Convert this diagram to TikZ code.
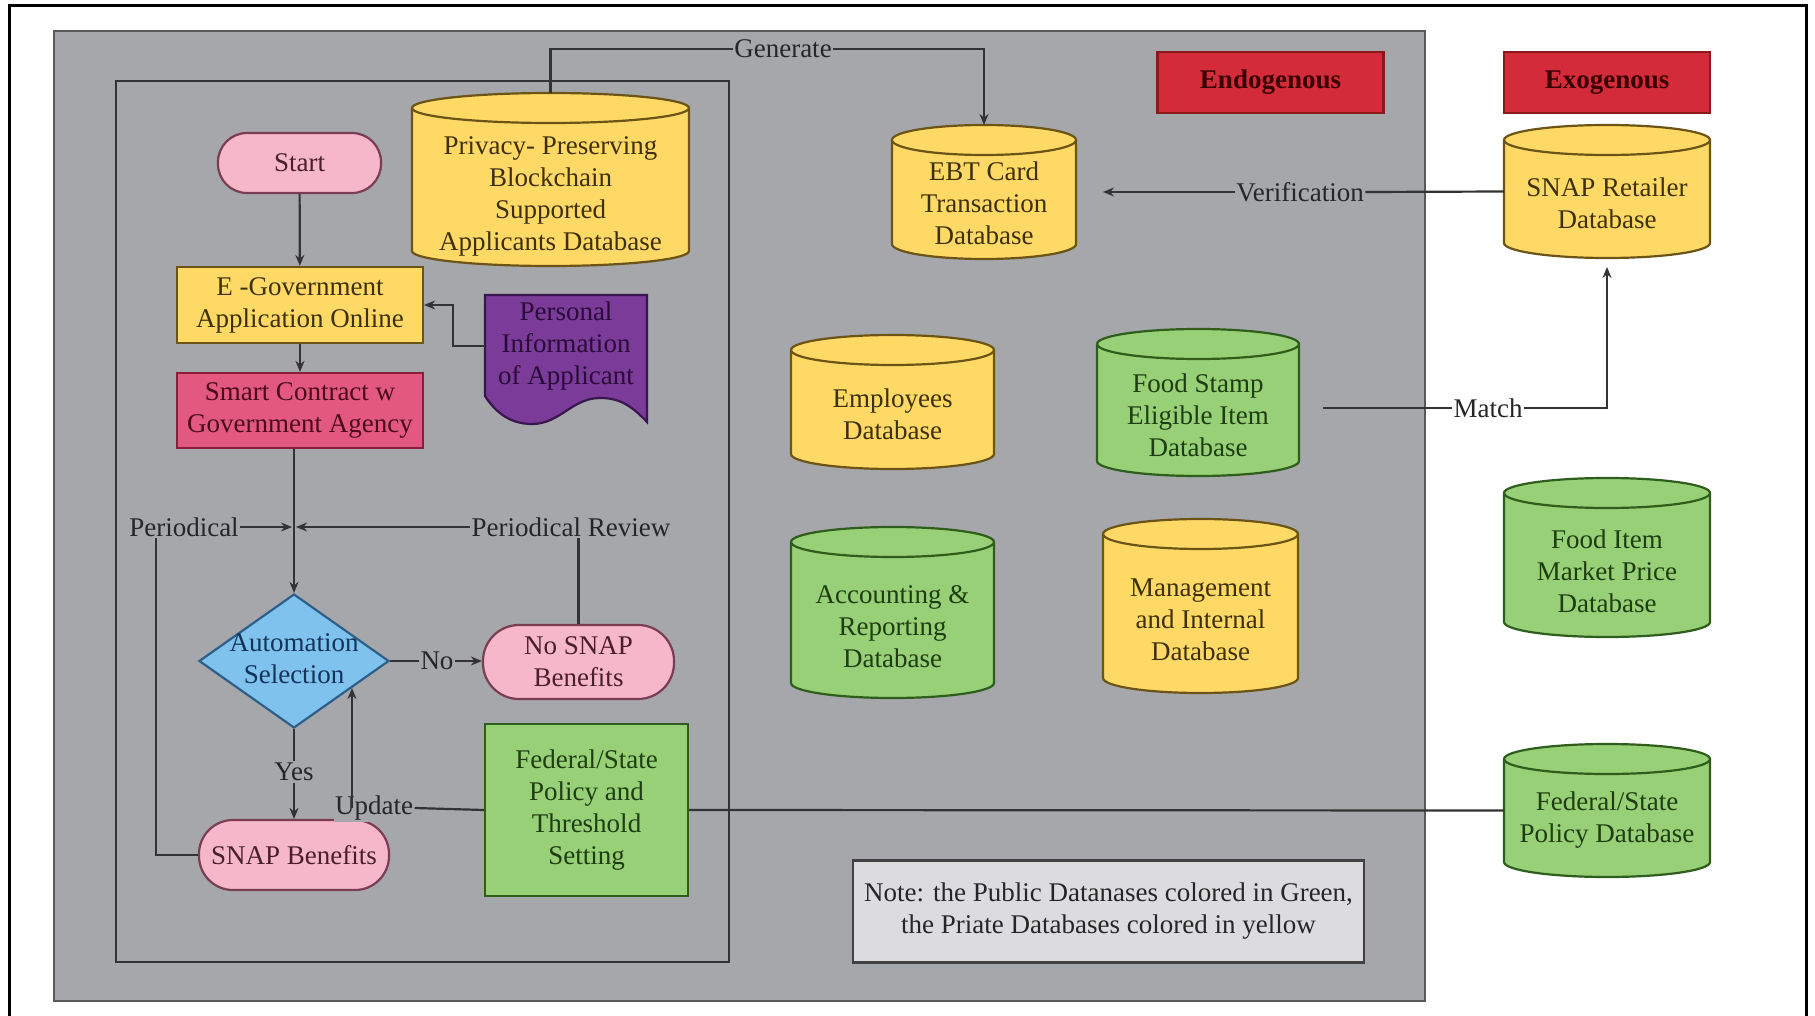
\documentclass[tikz,border=0pt]{standalone}
\usepackage{fontspec}
\setmainfont{Liberation Serif}
\usetikzlibrary{shapes.geometric,arrows.meta}
\newcommand\fs{\fontsize{27}{32}\selectfont}
\newcommand\cyry{15}
\definecolor{panelgray}{HTML}{A6A7AB}
\definecolor{ylwf}{HTML}{FFD966}
\definecolor{ylwd}{HTML}{6B5416}
\definecolor{ylwt}{HTML}{3D300B}
\definecolor{grnf}{HTML}{97D077}
\definecolor{grnd}{HTML}{2F5E1C}
\definecolor{grnt}{HTML}{1E3D10}
\definecolor{pinkf}{HTML}{F7B7CB}
\definecolor{pinkd}{HTML}{7A3E52}
\definecolor{pinkt}{HTML}{4A1F2D}
\definecolor{rosef}{HTML}{E2587F}
\definecolor{rosed}{HTML}{8A1C3C}
\definecolor{roset}{HTML}{4A0A1C}
\definecolor{purf}{HTML}{7B3B98}
\definecolor{purd}{HTML}{3A1650}
\definecolor{purt}{HTML}{2A0A3A}
\definecolor{bluef}{HTML}{7FC2EE}
\definecolor{blued}{HTML}{2E5F88}
\definecolor{bluet}{HTML}{12345A}
\definecolor{redf}{HTML}{D42B3A}
\definecolor{redd}{HTML}{8A1A1A}
\definecolor{redt}{HTML}{3A0000}
\definecolor{notef}{HTML}{DCDCDE}
\definecolor{linec}{HTML}{333333}
\tikzset{
  conn/.style={draw=linec, line width=2.2pt},
  arr/.style={conn, -{Stealth[length=11pt,width=9pt]}},
  lbl/.style={font=\fs, inner sep=1.5pt, fill=panelgray, text=black!85},
  txt/.style={font=\fs, align=center, inner sep=0pt},
  box/.style={rectangle, inner sep=0pt, outer sep=0pt},
  shp/.style={line width=2.2pt},
  procbox/.style={shp, rectangle, font=\fs, align=center, inner sep=0pt},
}
\newcommand\dbcyl[8]{%
  \path[shp, fill=#6f, draw=#6d] ({#2-#5/2},{#3+\cyry}) -- ({#2-#5/2},{#4-\cyry})
     arc[start angle=180,end angle=0,x radius={#5/2},y radius=\cyry]
     -- ({#2+#5/2},{#3+\cyry})
     arc[start angle=0,end angle=-180,x radius={#5/2},y radius=\cyry] -- cycle;
  \draw[shp, draw=#6d] ({#2-#5/2},{#3+\cyry}) arc[start angle=180,end angle=0,x radius={#5/2},y radius=\cyry];
  \node[box, minimum width={#5*1pt}, minimum height={(#4-#3)*1pt}] (#1) at (#2,{(#3+#4)/2}) {};
  \node[txt, text=#6t] (#1-t) at (#2,#7) {#8};
}
\begin{document}
\begin{tikzpicture}[x=1pt,y=-1pt]
\useasboundingbox (0,0) rectangle (1815,1016);
\fill[white] (0,0) rectangle (1815,1016);
\draw[line width=3pt] (9,1030) -- (9,6) -- (1806,6) -- (1806,1030);

% containers
\node[box, fill=panelgray, draw=black!65, line width=2.5pt, minimum width=1371pt, minimum height=970pt] (panel) at (739.5,516) {};
\node[box, draw=black!80, line width=2.5pt, minimum width=613pt, minimum height=881pt] (inner) at (422.5,521.5) {};

% headers
\node[procbox, fill=redf, draw=redd, text=redt, font=\fs\bfseries, minimum width=226pt, minimum height=61pt] (endo) at (1270.5,82.5) {Endogenous};
\node[procbox, fill=redf, draw=redd, text=redt, font=\fs\bfseries, minimum width=206pt, minimum height=61pt] (exo) at (1607,82.5) {Exogenous};

% flow nodes
\node[procbox, rounded corners=29pt, fill=pinkf, draw=pinkd, text=pinkt, minimum width=163pt, minimum height=60pt] (start) at (299.5,163) {Start};
\node[procbox, fill=ylwf, draw=ylwd, text=ylwt, minimum width=246pt, minimum height=76pt] (egov) at (300,305) {E -Government\\Application Online};
\node[procbox, fill=rosef, draw=rosed, text=roset, minimum width=246pt, minimum height=75pt] (smart) at (300,410.5) {Smart Contract w\\Government Agency};
\path[shp, fill=purf, draw=purd] (485,295) -- (647,295) -- (647,422)
   .. controls (630,404) and (618,398) .. (600,398)
   .. controls (572,398) and (560,424) .. (532,424)
   .. controls (508,424) and (494,410) .. (485,396) -- cycle;
\node[box, minimum width=162pt, minimum height=127pt] (pers) at (566,358.5) {};
\node[txt, text=purt] (pers-t) at (566,346) {Personal\\Information\\of Applicant};
\node[diamond, shp, fill=bluef, draw=blued, minimum width=190pt, minimum height=134pt, inner sep=0pt] (dia) at (294,661) {};
\node[txt, text=bluet] (dia-t) at (294,659) {Automation\\Selection};
\node[procbox, rounded corners=36pt, fill=pinkf, draw=pinkd, text=pinkt, minimum width=191pt, minimum height=74pt] (nosnap) at (578.5,662) {No SNAP\\Benefits};
\node[procbox, rounded corners=34pt, fill=pinkf, draw=pinkd, text=pinkt, minimum width=190pt, minimum height=70pt] (snapb) at (294,855) {SNAP Benefits};
\node[procbox, fill=grnf, draw=grnd, text=grnt, minimum width=203pt, minimum height=172pt] (fedbox) at (586.5,810) {Federal/State\\Policy and\\Threshold\\Setting};

% databases
\dbcyl{priv}{550.5}{93}{266}{277}{ylw}{196}{Privacy- Preserving\\Blockchain\\Supported\\Applicants Database}
\dbcyl{ebt}{984}{125}{259}{184}{ylw}{203}{EBT Card\\Transaction\\Database}
\dbcyl{ret}{1607}{125}{258}{206}{ylw}{203}{SNAP Retailer\\Database}
\dbcyl{emp}{892.5}{335}{469}{203}{ylw}{414}{Employees\\Database}
\dbcyl{food}{1198}{329}{476}{202}{grn}{415}{Food Stamp\\Eligible Item\\Database}
\dbcyl{acc}{892.5}{527}{698}{203}{grn}{627}{Accounting \&\\Reporting\\Database}
\dbcyl{mgmt}{1200.5}{519}{693}{195}{ylw}{620}{Management\\and Internal\\Database}
\dbcyl{fip}{1607}{478}{637}{206}{grn}{571}{Food Item\\Market Price\\Database}
\dbcyl{feddb}{1607}{744}{877}{206}{grn}{820}{Federal/State\\Policy Database}

% note
\node[procbox, fill=notef, draw=black!75, text=black!85, minimum width=511pt, minimum height=102pt] (note) at (1108.5,911.5) {Note: the Public Datanases colored in Green,\\the Priate Databases colored in yellow};

% connectors
\draw[arr] (start) -- (egov);
\draw[arr] (egov) -- (smart);
\draw[arr] (pers.west |- pers-t) -- ++(-32,0) |- (egov.east);
\draw[arr] (smart.south -| dia.north) -- (dia.north);
\coordinate (jn) at (294,527);
\coordinate (pc) at (156,527);
\draw[arr, shorten >=2pt] (snapb.west) -| (pc) -- (jn);
\draw[arr, shorten >=2pt] (nosnap.north) |- (jn);
\node[lbl] (per) at (184,527) {Periodical};
\node[lbl] (perrev) at (571,527) {Periodical Review};

\node[lbl] (no) at (437,661) {No};
\draw[conn] (dia.east) -- (no.west);
\draw[arr] (no.east) -- (no.east -| nosnap.west);
\node[lbl] (yes) at (294,772) {Yes};
\draw[conn] (dia.south) -- (yes.north);
\draw[arr] (yes.south) -- (snapb.north);

\node[lbl] (upd) at (374,808) {Update};
\draw[conn] (feddb.west) -- (fedbox.east);
\draw[conn] (fedbox.west) -- (upd.east);
\draw[arr] (dia.-25 |- upd.center) -- (dia.-25);

\node[lbl] (gen) at (783,49) {Generate};
\draw[conn] (priv.north) |- (gen.west);
\draw[arr] (gen.east) -| (ebt.north);

\node[lbl] (ver) at (1300,192) {Verification};
\draw[conn] (ret.west) -- (ver.east);
\draw[arr, shorten >=27pt] (ver.west) -- (ver.west -| ebt.east);

\node[lbl, fill=white] (match) at (1488,408) {Match};
\draw[conn, shorten <=24pt] (food.east |- match.west) -- (match.west);
\draw[arr, shorten >=9pt] (match.east) -| (ret.south);
\end{tikzpicture}
\end{document}
